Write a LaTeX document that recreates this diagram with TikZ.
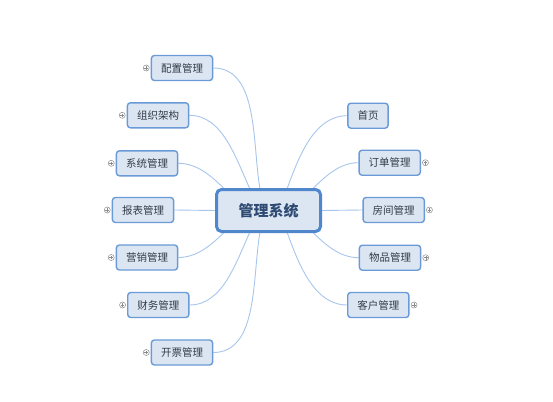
\documentclass[tikz,border=0pt]{standalone}
\usepackage{fontspec}
\newfontfamily\cjk{Noto Sans CJK SC}
\usetikzlibrary{positioning,calc,backgrounds}
\definecolor{leaffill}{HTML}{DCE6F2}
\definecolor{leafdraw}{HTML}{6A9BD8}
\definecolor{rootdraw}{HTML}{4F86CC}
\definecolor{linkc}{HTML}{A8C6EC}
\definecolor{leaftext}{HTML}{333B48}
\definecolor{roottext}{HTML}{2E4A72}
\definecolor{iconc}{HTML}{8A8A8A}
\tikzset{
  leaf/.style={draw=leafdraw, fill=leaffill, line width=1.4pt, rounded corners=3pt,
    minimum height=25pt, inner xsep=9.6pt, inner ysep=0pt, text=leaftext,
    font=\cjk\fontsize{10.5}{12}\selectfont},
  rootbox/.style={draw=rootdraw, fill=leaffill, line width=3pt, rounded corners=5pt,
    minimum width=104pt, minimum height=42pt, text=roottext,
    font=\cjk\bfseries\fontsize{15}{18}\selectfont},
  link/.style={draw=linkc, line width=0.9pt},
  plusicon/.style={circle, draw=iconc, line width=0.5pt, fill=white, minimum size=6pt, inner sep=0pt,
    path picture={\draw[iconc, line width=0.5pt] ($(path picture bounding box.center)+(-1.8pt,0)$) -- ($(path picture bounding box.center)+(1.8pt,0)$)
      ($(path picture bounding box.center)+(0,-1.8pt)$) -- ($(path picture bounding box.center)+(0,1.8pt)$);}},
}
\begin{document}
\begin{tikzpicture}[x=1pt,y=-1pt]
\useasboundingbox (0,0) rectangle (553,401);
\node[rootbox] (root) at (268.5,210.5) {管理系统};
% left
\node[leaf] (a) at (182,68) {配置管理};
\node[leaf] (b) at (158,115.3) {组织架构};
\node[leaf] (c) at (147,163.3) {系统管理};
\node[leaf] (d) at (143,210) {报表管理};
\node[leaf] (e) at (147,257.5) {营销管理};
\node[leaf] (f) at (158.3,305) {财务管理};
\node[leaf] (g) at (182,352.5) {开票管理};
% right
\node[leaf] (h) at (368,115.7) {首页};
\node[leaf] (i) at (389.7,162.7) {订单管理};
\node[leaf] (j) at (393.7,210) {房间管理};
\node[leaf] (k) at (390,257.7) {物品管理};
\node[leaf] (l) at (378.3,305) {客户管理};
% icons
\foreach \n in {a,b,c,d,e,f,g}{\node[plusicon, left=1.2pt of \n] (p\n) {};}
\foreach \n in {i,j,k,l}{\node[plusicon, right=1.2pt of \n] (p\n) {};}
% endpoints on root
\coordinate (ta) at ($(root.north)+(-8.5,1)$);
\coordinate (tb) at ($(root.north)+(-18.5,1)$);
\coordinate (tc) at ($(root.north)+(-43,2)$);
\coordinate (bf) at ($(root.south)+(-18.5,-1)$);
\coordinate (bg) at ($(root.south)+(-8.5,-1)$);
\coordinate (be) at ($(root.south)+(-43,-2)$);
\coordinate (th) at ($(root.north)+(18.5,1)$);
\coordinate (ti) at ($(root.north)+(43,2)$);
\coordinate (bl) at ($(root.south)+(18.5,-1)$);
\coordinate (bk) at ($(root.south)+(43,-2)$);
\begin{scope}[on background layer]
\fill[white] (0,0) rectangle (553,401);
\draw[link] (a.east) to[out=0,in=100,looseness=0.9] (ta);
\draw[link] (b.east) to[out=0,in=115,looseness=0.9] (tb);
\draw[link] (c.east) to[out=0,in=135,looseness=0.9] (tc);
\draw[link] (d.east) -- (root.west);
\draw[link] (e.east) to[out=0,in=-135,looseness=0.9] (be);
\draw[link] (f.east) to[out=0,in=-115,looseness=0.9] (bf);
\draw[link] (g.east) to[out=0,in=-100,looseness=0.9] (bg);
\draw[link] (h.west) to[out=180,in=70,looseness=0.9] (th);
\draw[link] (i.west) to[out=180,in=45,looseness=0.9] (ti);
\draw[link] (j.west) -- (root.east);
\draw[link] (k.west) to[out=180,in=-45,looseness=0.9] (bk);
\draw[link] (l.west) to[out=180,in=-70,looseness=0.9] (bl);
\end{scope}
\end{tikzpicture}
\end{document}
